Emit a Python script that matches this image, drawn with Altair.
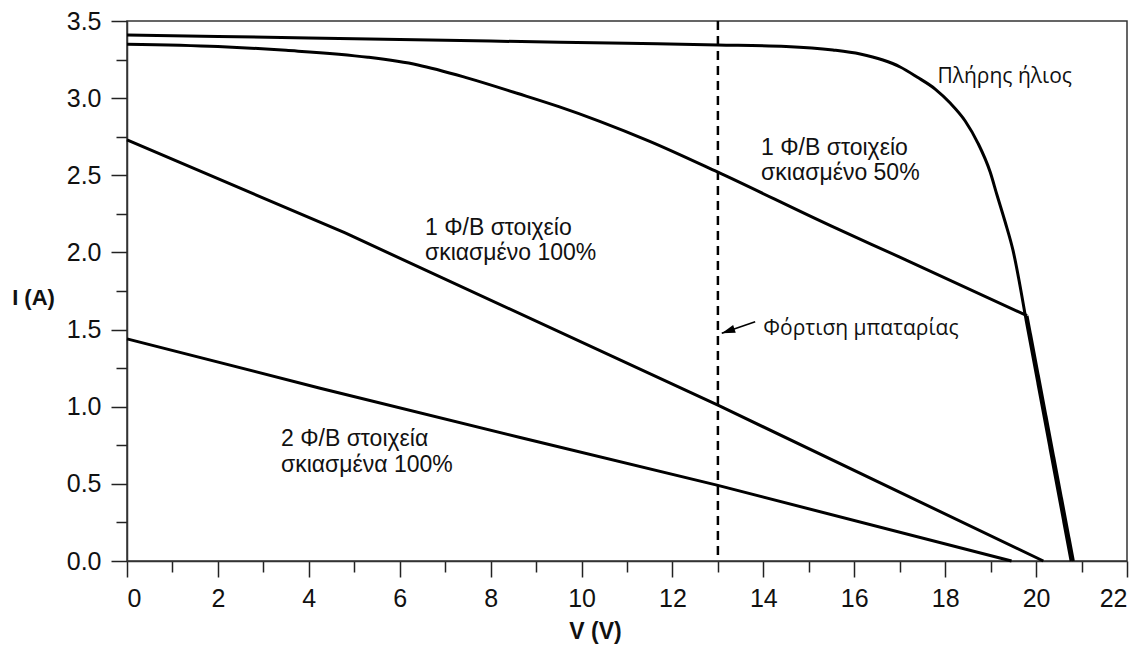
import altair as alt
import pandas as pd

# ---- data ----
# full sun: smooth part up to the merge point, then the straight drop
V_FULL = [0, 4, 8, 11, 13, 14.5, 15.53, 16.13, 16.63, 17.01, 17.38, 17.78, 18.11, 18.44,
          18.72, 18.99, 19.14, 19.32, 19.49, 19.76]
I_FULL = [3.41, 3.39, 3.37, 3.355, 3.345, 3.335, 3.312, 3.286, 3.247, 3.202, 3.137, 3.059,
          2.968, 2.852, 2.709, 2.521, 2.372, 2.197, 2.016, 1.594]
V_FULL_DROP = [19.76, 20.77]
I_FULL_DROP = [1.594, 0.0]

# one cell 50 % shaded: smooth part up to the merge point, then the drop
V_HALF = [0, 2, 3.5, 5.3, 6.4, 7.5, 8.6, 9.5, 10.4, 11.5, 13, 15.5, 17, 19.8]
I_HALF = [3.35, 3.335, 3.31, 3.265, 3.215, 3.13, 3.03, 2.945, 2.85, 2.72, 2.52, 2.17, 1.97, 1.59]
V_HALF_DROP = [19.8, 20.82]
I_HALF_DROP = [1.59, 0.0]

V_ONE = [0, 4.8, 13, 20.16]
I_ONE = [2.73, 2.126, 1.01, 0.0]

V_TWO = [0, 4.25, 8.65, 13, 19.46]
I_TWO = [1.44, 1.12, 0.80, 0.49, 0.0]

BATTERY_V = 13

X_MAJOR = list(range(0, 23, 2))
X_MINOR = list(range(1, 22, 2))
Y_MAJOR = [0.0, 0.5, 1.0, 1.5, 2.0, 2.5, 3.0, 3.5]
Y_MINOR = [0.25, 0.75, 1.25, 1.75, 2.25, 2.75, 3.25]

LABEL_V = [13.95, 13.95, 6.556, 6.556, 3.388, 3.388]
LABEL_I = [2.631, 2.469, 2.113, 1.951, 0.745, 0.579]
LABEL_T = ["1 Φ/Β στοιχείο", "σκιασμένο 50%", "1 Φ/Β στοιχείο", "σκιασμένο 100%",
           "2 Φ/Β στοιχεία", "σκιασμένα 100%"]

NOTE_V = [17.83, 14.0]
NOTE_I = [3.096, 1.465]
NOTE_T = ["Πλήρης ήλιος", "Φόρτιση μπαταρίας"]

ARROW_TAIL = (13.82, 1.551)
ARROW_TIP = (13.085, 1.476)

# ---- tables ----
def table(pairs):
    rows = []
    for name, vs, iss in pairs:
        for v, i in zip(vs, iss):
            rows.append({"series": name, "V": v, "I": i})
    return pd.DataFrame(rows)

df_lin = table([("half_drop", V_HALF_DROP, I_HALF_DROP), ("full_drop", V_FULL_DROP, I_FULL_DROP),
                ("one", V_ONE, I_ONE), ("two", V_TWO, I_TWO)])
df_smooth = table([("full", V_FULL, I_FULL), ("half", V_HALF, I_HALF)])
df_lab = pd.DataFrame({"V": LABEL_V, "I": LABEL_I, "t": LABEL_T})
df_note = pd.DataFrame({"V": NOTE_V, "I": NOTE_I, "t": NOTE_T})
df_dash = pd.DataFrame({"V": [BATTERY_V]})
df_arrow = pd.DataFrame({"V": [ARROW_TAIL[0]], "I": [ARROW_TAIL[1]],
                         "V2": [ARROW_TIP[0]], "I2": [ARROW_TIP[1]]})
df_tip = pd.DataFrame({"V": [ARROW_TIP[0]], "I": [ARROW_TIP[1]]})

xs = alt.Scale(domain=[0, 22], nice=False, zero=False)
ys = alt.Scale(domain=[0, 3.5], nice=False, zero=False)

FONT = "Liberation Sans"

x_major = alt.Axis(values=X_MAJOR, format="d", orient="bottom", grid=False,
                   tickSize=16, tickWidth=1.5, tickColor="#222",
                   domainColor="#333", domainWidth=1.5,
                   labelFont=FONT, labelFontSize=25, labelColor="#111", labelPadding=9,
                   title="V (V)", titleFont=FONT, titleFontSize=23, titleFontWeight="bold",
                   titleColor="#111", titleX=468, titleY=70, titleAlign="center",
                   titleBaseline="middle")
y_major = alt.Axis(values=Y_MAJOR, format=".1f", orient="left", grid=False,
                   tickSize=16, tickWidth=1.5, tickColor="#222",
                   domainColor="#333", domainWidth=1.5,
                   labelFont=FONT, labelFontSize=25, labelColor="#111", labelPadding=10,
                   title="I (A)", titleFont=FONT, titleFontSize=22, titleFontWeight="bold",
                   titleColor="#111", titleAngle=0, titleX=-94, titleY=276,
                   titleAlign="center", titleBaseline="middle")
x_minor = alt.Axis(values=X_MINOR, orient="bottom", grid=False, labels=False, domain=False,
                   tickSize=11, tickWidth=1.5, tickColor="#222", title=None)
y_minor = alt.Axis(values=Y_MINOR, orient="left", grid=False, labels=False, domain=False,
                   tickSize=11, tickWidth=1.5, tickColor="#222", title=None)

curves = alt.Chart(df_lin).mark_line(color="black", strokeWidth=3).encode(
    x=alt.X("V:Q", scale=xs, axis=x_major),
    y=alt.Y("I:Q", scale=ys, axis=y_major),
    detail="series:N",
)
smooth = alt.Chart(df_smooth).mark_line(color="black", strokeWidth=3, interpolate="monotone").encode(
    x=alt.X("V:Q", scale=xs, axis=None),
    y=alt.Y("I:Q", scale=ys, axis=None),
    detail="series:N",
)
minor = alt.Chart(df_smooth).mark_point(opacity=0).encode(
    x=alt.X("V:Q", scale=xs, axis=x_minor),
    y=alt.Y("I:Q", scale=ys, axis=y_minor),
)
dash = alt.Chart(df_dash).mark_rule(color="black", strokeWidth=2.5, strokeDash=[9, 6]).encode(
    x=alt.X("V:Q", scale=xs, axis=None),
)
labels = alt.Chart(df_lab).mark_text(align="left", baseline="alphabetic", font=FONT,
                                     fontSize=23, color="#111").encode(
    x=alt.X("V:Q", scale=xs, axis=None),
    y=alt.Y("I:Q", scale=ys, axis=None),
    text="t:N",
)
notes = alt.Chart(df_note).mark_text(align="left", baseline="alphabetic", font="Open Sans",
                                     fontSize=21, color="#111").encode(
    x=alt.X("V:Q", scale=xs, axis=None),
    y=alt.Y("I:Q", scale=ys, axis=None),
    text="t:N",
)
arrow = alt.Chart(df_arrow).mark_rule(color="black", strokeWidth=1.6).encode(
    x=alt.X("V:Q", scale=xs, axis=None),
    y=alt.Y("I:Q", scale=ys, axis=None),
    x2="V2:Q",
    y2="I2:Q",
)
tip = alt.Chart(df_tip).mark_point(shape="M0,0L0.6,2L-0.6,2Z", filled=True, color="black",
                                   opacity=1, size=180, angle=251).encode(
    x=alt.X("V:Q", scale=xs, axis=None),
    y=alt.Y("I:Q", scale=ys, axis=None),
)

chart = alt.layer(minor, dash, curves, smooth, labels, notes, arrow, tip).resolve_axis(
    x="independent", y="independent"
).properties(
    width=1000,
    height=540,
    autosize=alt.AutoSizeParams(type="none"),
    padding={"left": 127, "top": 21, "right": 18, "bottom": 84},
    background="white",
).configure_view(stroke="#333", strokeWidth=1.5)

chart.save("out.html", embed_options={"renderer": "svg", "actions": False})
